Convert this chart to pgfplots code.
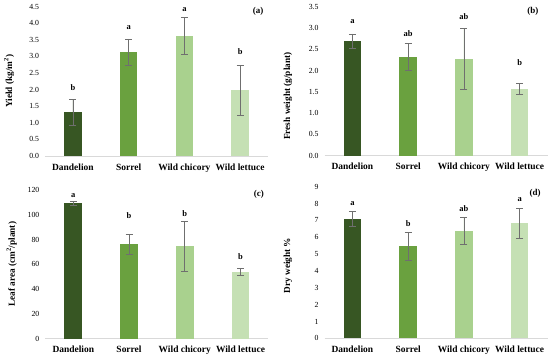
\documentclass[border=0pt]{standalone}
\usepackage{fontspec}
\setmainfont{Liberation Serif}
\usepackage{pgfplots}
\pgfplotsset{compat=1.18}
\definecolor{cA}{HTML}{375623}
\definecolor{cB}{HTML}{6AA13F}
\definecolor{cC}{HTML}{A9D18E}
\definecolor{cD}{HTML}{C5E0B4}
\definecolor{axgrey}{HTML}{D9D9D9}
\definecolor{errgrey}{HTML}{6F6F6F}
\pgfplotsset{
  panel/.style={
    scale only axis, anchor=south west, ybar, bar width=17.7bp,
    width=223bp,
    xmin=-0.5, xmax=3.5, xtick={0,1,2,3},
    xticklabels={Dandelion,Sorrel,Wild chicory,Wild lettuce},
    axis x line*=bottom, axis y line*=left,
    y axis line style={draw=none},
    x axis line style={draw=axgrey, line width=0.8pt},
    major tick length=0pt, tick style={draw=none},
    ymin=0, clip=false,
    /pgf/number format/assume math mode=true,
    yticklabel style={font=\fontsize{7.8}{8}\selectfont, xshift=-2.5bp},
    xticklabel style={font=\bfseries\fontsize{9.5}{10}\selectfont, yshift=-4bp},
    every axis y label/.style={rotate=90, anchor=center, font=\bfseries\fontsize{9.3}{10}\selectfont},
    every axis plot/.append style={bar shift=0pt, draw=none,
      error bars/y dir=both, error bars/y explicit,
      error bars/error mark=-,
      error bars/error bar style={draw=errgrey, line width=0.6pt},
      error bars/error mark options={rotate=90, draw=errgrey, line width=0.6pt, mark size=3.5bp}},
  },
}
\tikzset{
  lett/.style={font=\bfseries\fontsize{8.5}{9}\selectfont, anchor=base},
  plab/.style={font=\bfseries\fontsize{9}{10}\selectfont, anchor=base east},
}
\begin{document}
\begin{tikzpicture}
\useasboundingbox (0,0) rectangle (550bp,359bp);
% (a)
\begin{axis}[panel, at={(45bp,203bp)}, height=149.3bp,
  ymax=4.5, ytick={0,0.5,...,4.5},
  yticklabel style={/pgf/number format/.cd, fixed, fixed zerofill, precision=1},
  ylabel={Yield (kg/m\textsuperscript{2})},
  every axis y label/.append style={at={(axis description cs:-0.161,0.50)}}]
\addplot[fill=cA] coordinates {(0,1.32) +- (0,0.39)};
\addplot[fill=cB] coordinates {(1,3.13) +- (0,0.40)};
\addplot[fill=cC] coordinates {(2,3.62) +- (0,0.56)};
\addplot[fill=cD] coordinates {(3,1.98) +- (0,0.74)};
\node[lett] at (axis cs:0,1.97) {b};
\node[lett] at (axis cs:1,3.82) {a};
\node[lett] at (axis cs:2,4.37) {a};
\node[lett] at (axis cs:3,3.07) {b};
\node[plab] at (axis description cs:0.995,0.955) {(a)};
\end{axis}
% (b)
\begin{axis}[panel, at={(324.5bp,203.3bp)}, height=149bp,
  ymax=3.5, ytick={0,0.5,...,3.5},
  yticklabel style={/pgf/number format/.cd, fixed, fixed zerofill, precision=1},
  ylabel={Fresh weight (g/plant)},
  every axis y label/.append style={at={(axis description cs:-0.164,0.40)}}]
\addplot[fill=cA] coordinates {(0,2.69) +- (0,0.17)};
\addplot[fill=cB] coordinates {(1,2.32) +- (0,0.32)};
\addplot[fill=cC] coordinates {(2,2.27) +- (0,0.72)};
\addplot[fill=cD] coordinates {(3,1.57) +- (0,0.12)};
\node[lett] at (axis cs:0,3.11) {a};
\node[lett] at (axis cs:1,2.81) {ab};
\node[lett] at (axis cs:2,3.21) {ab};
\node[lett] at (axis cs:3,2.12) {b};
\node[plab] at (axis description cs:0.975,0.955) {(b)};
\end{axis}
% (c)
\begin{axis}[panel, at={(45.4bp,20.3bp)}, height=148.7bp,
  ymax=120, ytick={0,20,...,120},
  ylabel={Leaf area (cm\textsuperscript{2}/plant)},
  every axis y label/.append style={at={(axis description cs:-0.151,0.50)}}]
\addplot[fill=cA] coordinates {(0,109.2) +- (0,1.6)};
\addplot[fill=cB] coordinates {(1,76.4) +- (0,8)};
\addplot[fill=cC] coordinates {(2,74.5) +- (0,20.3)};
\addplot[fill=cD] coordinates {(3,53.8) +- (0,3)};
\node[lett] at (axis cs:0,114) {a};
\node[lett] at (axis cs:1,97) {b};
\node[lett] at (axis cs:2,99) {b};
\node[lett] at (axis cs:3,64.3) {b};
\node[plab] at (axis description cs:0.995,0.955) {(c)};
\end{axis}
% (d)
\begin{axis}[panel, at={(324.5bp,20.7bp)}, height=151.6bp,
  ymax=9, ytick={0,1,...,9},
  ylabel={Dry weight \%},
  every axis y label/.append style={at={(axis description cs:-0.164,0.48)}}]
\addplot[fill=cA] coordinates {(0,7.10) +- (0,0.43)};
\addplot[fill=cB] coordinates {(1,5.46) +- (0,0.82)};
\addplot[fill=cC] coordinates {(2,6.39) +- (0,0.82)};
\addplot[fill=cD] coordinates {(3,6.82) +- (0,0.89)};
\node[lett] at (axis cs:0,7.89) {a};
\node[lett] at (axis cs:1,6.63) {b};
\node[lett] at (axis cs:2,7.52) {ab};
\node[lett] at (axis cs:3,8.15) {a};
\node[plab] at (axis description cs:0.985,0.945) {(d)};
\end{axis}
\end{tikzpicture}
\end{document}
